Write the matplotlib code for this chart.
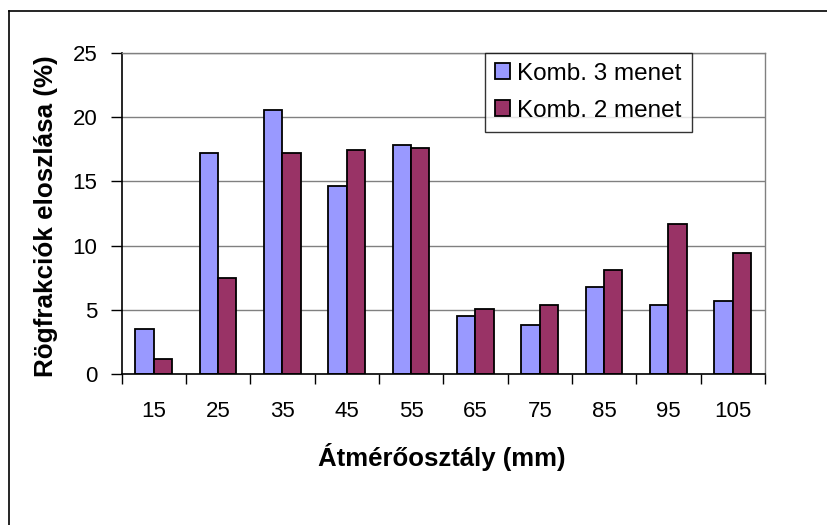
import matplotlib
matplotlib.use("Agg")
import matplotlib.pyplot as plt
import numpy as np
from matplotlib.lines import Line2D

categories = ["15", "25", "35", "45", "55", "65", "75", "85", "95", "105"]
komb3 = [3.55, 17.2, 20.5, 14.6, 17.85, 4.5, 3.85, 6.8, 5.4, 5.7]
komb2 = [1.2, 7.45, 17.2, 17.4, 17.55, 5.1, 5.4, 8.1, 11.65, 9.45]
series_names = ["Komb. 3 menet", "Komb. 2 menet"]
yticks = [0, 5, 10, 15, 20, 25]

plt.rcParams['font.family'] = ['Liberation Sans', 'DejaVu Sans']

fig = plt.figure(figsize=(8.27, 5.25), dpi=100)
ax = fig.add_axes([0.147, 0.287, 0.778, 0.613])

x = np.arange(len(categories))
w = 0.285
ax.bar(x - w/2, komb3, w, color='#9999FF', edgecolor='black', linewidth=1.3,
       label=series_names[0], zorder=3)
ax.bar(x + w/2, komb2, w, color='#993366', edgecolor='black', linewidth=1.3,
       label=series_names[1], zorder=3)

ax.set_xlim(-0.5, len(categories) - 0.5)
ax.set_ylim(0, 25)
ax.set_yticks(yticks)
ax.set_yticklabels([str(v) for v in yticks], fontsize=16)
ax.yaxis.grid(True, color='#808080', linewidth=1.0, zorder=0)
ax.set_axisbelow(True)

# category labels via minor ticks at centers, major ticks at boundaries
ax.set_xticks(np.arange(-0.5, len(categories), 1.0))
ax.set_xticklabels([])
ax.set_xticks(x, minor=True)
ax.set_xticklabels(categories, minor=True, fontsize=16)
ax.tick_params(axis='x', which='minor', length=0, pad=19.5)
ax.tick_params(axis='x', which='major', length=7, width=1, color='black', direction='out')
ax.tick_params(axis='y', length=8, width=1, color='black', direction='out', pad=9.5)

for s in ['top', 'right']:
    ax.spines[s].set_color('#808080')
    ax.spines[s].set_linewidth(1.0)
for s in ['left', 'bottom']:
    ax.spines[s].set_color('black')
    ax.spines[s].set_linewidth(1.2)
ax.spines['bottom'].set_zorder(4)

fig.text(442 / 827, 1 - 466 / 525, "Átmérőosztály (mm)", fontsize=18.5, fontweight='bold',
         ha='center', va='baseline')
fig.text(46 / 827, 1 - 215.7 / 525, "Rögfrakciók eloszlása (%)", fontsize=18.7,
         fontweight='bold', rotation=90, ha='center', va='center')

leg = ax.legend(loc='upper left', bbox_to_anchor=(0.565, 1.0), borderaxespad=0,
                fontsize=17.5, frameon=True, fancybox=False, edgecolor='black',
                handlelength=0.6, handleheight=0.6, handletextpad=0.3,
                labelspacing=0.62, borderpad=0.42)
leg.get_frame().set_linewidth(1.0)
leg.set_zorder(5)

# outer chart frame (top and left visible)
fig.add_artist(Line2D([0.011, 1.0], [1 - 11/525, 1 - 11/525], color='black', linewidth=1.2,
                      transform=fig.transFigure))
fig.add_artist(Line2D([0.011, 0.011], [0.0, 1 - 11/525], color='black', linewidth=1.2,
                      transform=fig.transFigure))

fig.savefig("out.png", dpi=100)
